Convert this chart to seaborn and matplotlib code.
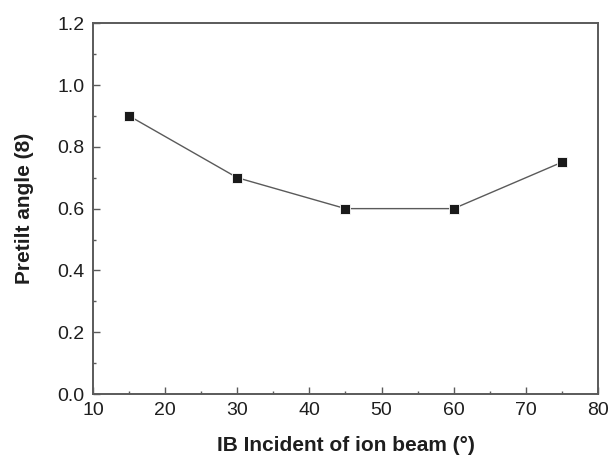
import matplotlib
matplotlib.use("Agg")
import matplotlib.pyplot as plt
import seaborn as sns
import pandas as pd
from matplotlib.ticker import MultipleLocator

angles = [15, 30, 45, 60, 75]
pretilt = [0.90, 0.70, 0.60, 0.60, 0.75]
y_tick_labels = ["0.0", "0.2", "0.4", "0.6", "0.8", "1.0", "1.2"]

df = pd.DataFrame({"angle": angles, "pretilt": pretilt})

sns.set_theme(style="ticks")
plt.rcParams['font.family'] = ['Liberation Sans', 'DejaVu Sans']

fig = plt.figure(figsize=(6.12, 4.55), dpi=100)
ax = fig.add_axes([0.152, 0.134, 0.825, 0.815])

sns.lineplot(data=df, x="angle", y="pretilt", ax=ax, color="#5a5a5a", linewidth=1.0,
             marker="s", markersize=7, markerfacecolor="#1a1a1a", markeredgecolor="white",
             markeredgewidth=0.6)

ax.set_xlim(10, 80)
ax.set_ylim(0, 1.2)
ax.xaxis.set_major_locator(MultipleLocator(10))
ax.xaxis.set_minor_locator(MultipleLocator(5))
ax.set_yticks([0, 0.2, 0.4, 0.6, 0.8, 1.0, 1.2])
ax.set_yticklabels(y_tick_labels)
ax.yaxis.set_minor_locator(MultipleLocator(0.1))

for s in ax.spines.values():
    s.set_color("#5a5a5a")
    s.set_linewidth(1.4)
    s.set_visible(True)

ax.tick_params(which="major", direction="in", length=5, width=1.0, color="#5a5a5a",
               labelsize=14, labelcolor="#1e1e1e", top=False, right=False, pad=6)
ax.tick_params(which="minor", direction="in", length=2.5, width=1.0, color="#5a5a5a",
               top=False, right=False)

ax.set_xlabel("IB Incident of ion beam (°)", fontsize=15, fontweight="bold", color="#1e1e1e", labelpad=12)
ax.set_ylabel("Pretilt angle (8)", fontsize=15, fontweight="bold", color="#1e1e1e", labelpad=17)

fig.savefig("out.png", dpi=100, facecolor="white")
